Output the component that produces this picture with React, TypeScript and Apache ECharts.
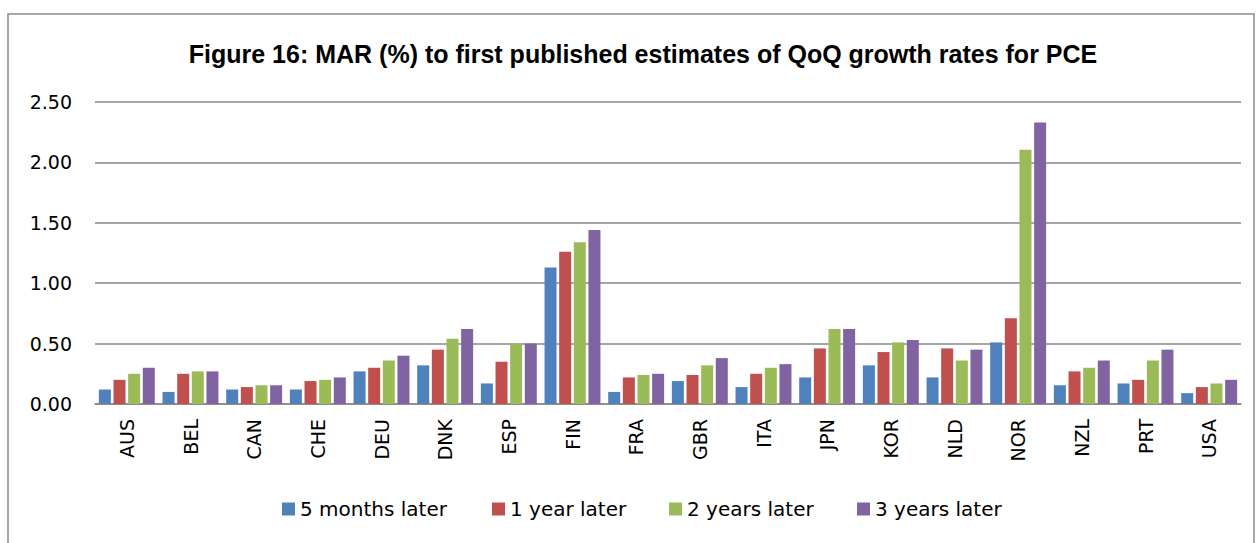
import React, { useEffect, useRef } from "react";
import * as echarts from "echarts";

const titleText = "Figure 16: MAR (%) to first published estimates of QoQ growth rates for PCE";
const categories = ["AUS", "BEL", "CAN", "CHE", "DEU", "DNK", "ESP", "FIN", "FRA", "GBR", "ITA", "JPN", "KOR", "NLD", "NOR", "NZL", "PRT", "USA"];
const seriesNames = ["5 months later", "1 year later", "2 years later", "3 years later"];
const fiveMonths = [0.12, 0.10, 0.12, 0.12, 0.27, 0.32, 0.17, 1.13, 0.10, 0.19, 0.14, 0.22, 0.32, 0.22, 0.51, 0.155, 0.17, 0.09];
const oneYear = [0.20, 0.25, 0.14, 0.19, 0.30, 0.45, 0.35, 1.26, 0.22, 0.24, 0.25, 0.46, 0.43, 0.46, 0.71, 0.27, 0.20, 0.14];
const twoYears = [0.25, 0.27, 0.155, 0.20, 0.36, 0.54, 0.50, 1.34, 0.24, 0.32, 0.30, 0.62, 0.51, 0.36, 2.105, 0.30, 0.36, 0.17];
const threeYears = [0.30, 0.27, 0.155, 0.22, 0.40, 0.62, 0.50, 1.44, 0.25, 0.38, 0.33, 0.62, 0.53, 0.45, 2.33, 0.36, 0.45, 0.20];
const colors = ["#4F81BD", "#C0504D", "#9BBB59", "#8064A2"];
const legendLefts = [282, 492, 669, 857];

export default function App() {
  const ref = useRef<HTMLDivElement>(null);
  useEffect(() => {
    if (!ref.current) return;
    const chart = echarts.init(ref.current, null, { renderer: "svg" });
    const data = [fiveMonths, oneYear, twoYears, threeYears];
    chart.setOption({
      animation: false,
      backgroundColor: "#ffffff",
      title: {
        text: titleText,
        left: 638,
        top: 36,
        textAlign: "center",
        textStyle: { fontFamily: "Liberation Sans Narrow, Arial Narrow, sans-serif", fontWeight: "bold", fontSize: 25, color: "#000" },
      },
      graphic: [
        { type: "rect", shape: { x: 8, y: 14, width: 1246, height: 600 }, style: { fill: "none", stroke: "#8a8a8a", lineWidth: 1.5 }, silent: true },
      ],
      legend: seriesNames.map((n, i) => ({
        data: [n],
        left: legendLefts[i],
        top: 499,
        itemWidth: 13,
        itemHeight: 13,
        icon: "rect",
        padding: 0,
        textStyle: { fontFamily: "DejaVu Sans", fontSize: 20, color: "#000" },
      })),
      grid: { left: 95, right: 17, top: 102, bottom: 139, containLabel: false },
      xAxis: {
        type: "category",
        data: categories,
        axisLine: { lineStyle: { color: "#888", width: 1.5 } },
        axisTick: { show: false },
        axisLabel: { rotate: 90, margin: 15, fontFamily: "DejaVu Sans", fontSize: 19, color: "#000" },
      },
      yAxis: {
        type: "value",
        min: 0,
        max: 2.5,
        interval: 0.5,
        axisLine: { show: false },
        axisTick: { show: false },
        splitLine: { lineStyle: { color: "#888", width: 1.5 } },
        axisLabel: { margin: 23, fontFamily: "DejaVu Sans", fontSize: 19, color: "#000", formatter: (v: number) => v.toFixed(2) },
      },
      series: seriesNames.map((n, i) => ({
        name: n,
        type: "bar",
        data: data[i],
        barWidth: 12,
        barGap: "22%",
        itemStyle: { color: colors[i] },
      })),
    });
    return () => chart.dispose();
  }, []);
  return <div ref={ref} style={{ position: "fixed", left: 0, top: 0, width: 1258, height: 543 }} />;
}
